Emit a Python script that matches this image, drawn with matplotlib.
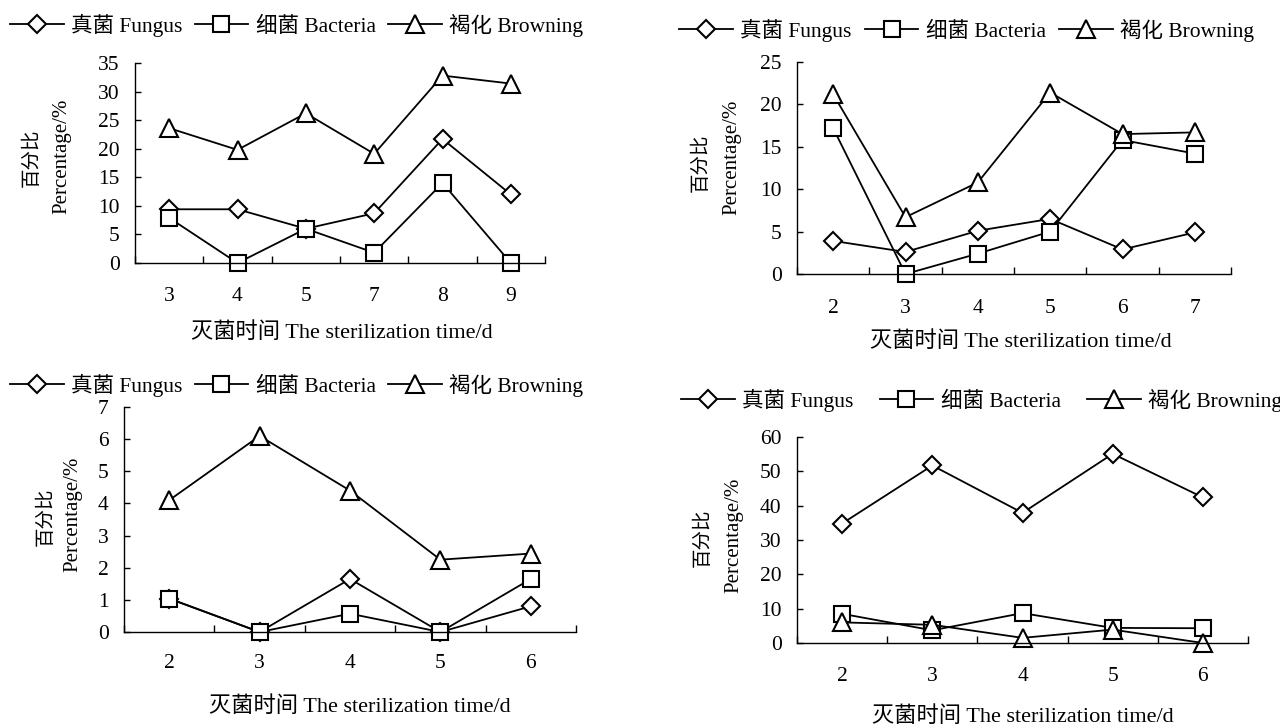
import numpy as np
import matplotlib
matplotlib.use('Agg')
import matplotlib.pyplot as plt

plt.rcParams['font.family'] = ['Liberation Serif', 'Noto Sans CJK SC']

W, H = 1280, 726

names = ['真菌 Fungus', '细菌 Bacteria', '褐化 Browning']
markers = ['D', 's', '^']
msizes = [9.3, 11.5, 12.5]

# panel a
days_a = ['3', '4', '5', '7', '8', '9']
fungus_a = [9.4, 9.4, 6.0, 8.7, 21.7, 12.0]
bacteria_a = [7.9, 0.0, 6.0, 1.8, 14.0, 0.0]
browning_a = [23.6, 19.8, 26.2, 19.1, 32.8, 31.4]

# panel b
days_b = ['2', '3', '4', '5', '6', '7']
fungus_b = [3.9, 2.6, 5.1, 6.5, 2.9, 4.9]
bacteria_b = [17.2, 0.0, 2.4, 5.0, 15.8, 14.2]
browning_b = [21.2, 6.7, 10.8, 21.4, 16.5, 16.7]

# panel c
days_c = ['2', '3', '4', '5', '6']
fungus_c = [1.04, 0.0, 1.65, 0.0, 0.8]
bacteria_c = [1.04, 0.0, 0.57, 0.0, 1.65]
browning_c = [4.1, 6.1, 4.4, 2.25, 2.44]

# panel d
days_d = ['2', '3', '4', '5', '6']
fungus_d = [34.8, 51.7, 37.9, 55.1, 42.4]
bacteria_d = [8.5, 3.7, 8.7, 4.4, 4.3]
browning_d = [6.0, 5.3, 1.5, 3.9, 0.0]

fig = plt.figure(figsize=(W / 100, H / 100), dpi=100)


def panel(box, days, series, ymax, ystep, leg_xy, colsp, zh_xy, en_xy, xl_xy, tick_y):
    l, t, r, b = box
    ax = fig.add_axes([l / W, 1 - b / H, (r - l) / W, (b - t) / H])
    x = np.arange(len(days))
    lines = []
    for vals, m, ms, nm in zip(series, markers, msizes, names):
        ln, = ax.plot(x, vals, color='black', lw=1.3, marker=m, ms=ms,
                      mfc='white', mec='black', mew=1.5, label=nm, clip_on=False)
        lines.append(ln)
    ax.set_xlim(-0.5, len(days) - 0.5)
    ax.set_ylim(0, ymax)
    ax.set_yticks(np.arange(0, ymax + 0.01, ystep))
    ax.set_xticks(x, days)
    ax.set_xticks(np.arange(len(days) + 1) - 0.5, minor=True)
    for s in ['top', 'right']:
        ax.spines[s].set_visible(False)
    for s in ['left', 'bottom']:
        ax.spines[s].set_linewidth(1.0)
    pad = (tick_y - b - 11) * 0.72
    ax.tick_params(axis='x', which='major', length=0, pad=pad, labelsize=15.5)
    ax.tick_params(axis='x', which='minor', direction='in', length=5, width=1.0)
    ax.tick_params(axis='y', direction='in', length=4.5, width=1.0, pad=11, labelsize=15.5)
    fig.legend(handles=lines, loc='center left',
               bbox_to_anchor=(leg_xy[0] / W, 1 - leg_xy[1] / H),
               ncol=3, frameon=False, fontsize=15.5, handlelength=2.5,
               handletextpad=0.35, columnspacing=colsp, borderpad=0, borderaxespad=0)
    fig.text(zh_xy[0] / W, 1 - zh_xy[1] / H, '百分比', rotation=90, fontsize=14,
             ha='center', va='center')
    fig.text(en_xy[0] / W, 1 - en_xy[1] / H, 'Percentage/%', rotation=90, fontsize=15,
             ha='center', va='center')
    fig.text(xl_xy[0] / W, 1 - xl_xy[1] / H, '灭菌时间 The sterilization time/d',
             fontsize=16, ha='center', va='center')
    return ax


panel((135, 63, 545, 263), days_a, [fungus_a, bacteria_a, browning_a], 35, 5,
      (10, 25), 0.55, (32, 158), (62, 156), (342, 333), 298)
panel((797, 62, 1231, 274), days_b, [fungus_b, bacteria_b, browning_b], 25, 5,
      (679, 30), 0.6, (701, 163), (732, 157), (1021, 342), 310)
panel((124, 407, 576, 632), days_c, [fungus_c, bacteria_c, browning_c], 7, 1,
      (10, 385), 0.55, (46, 517), (73, 514), (360, 707), 665)
panel((797, 437, 1248, 643), days_d, [fungus_d, bacteria_d, browning_d], 60, 10,
      (681, 400), 1.2, (703, 538), (734, 535), (1023, 717), 678)

fig.savefig('out.png', dpi=100, facecolor='white')
